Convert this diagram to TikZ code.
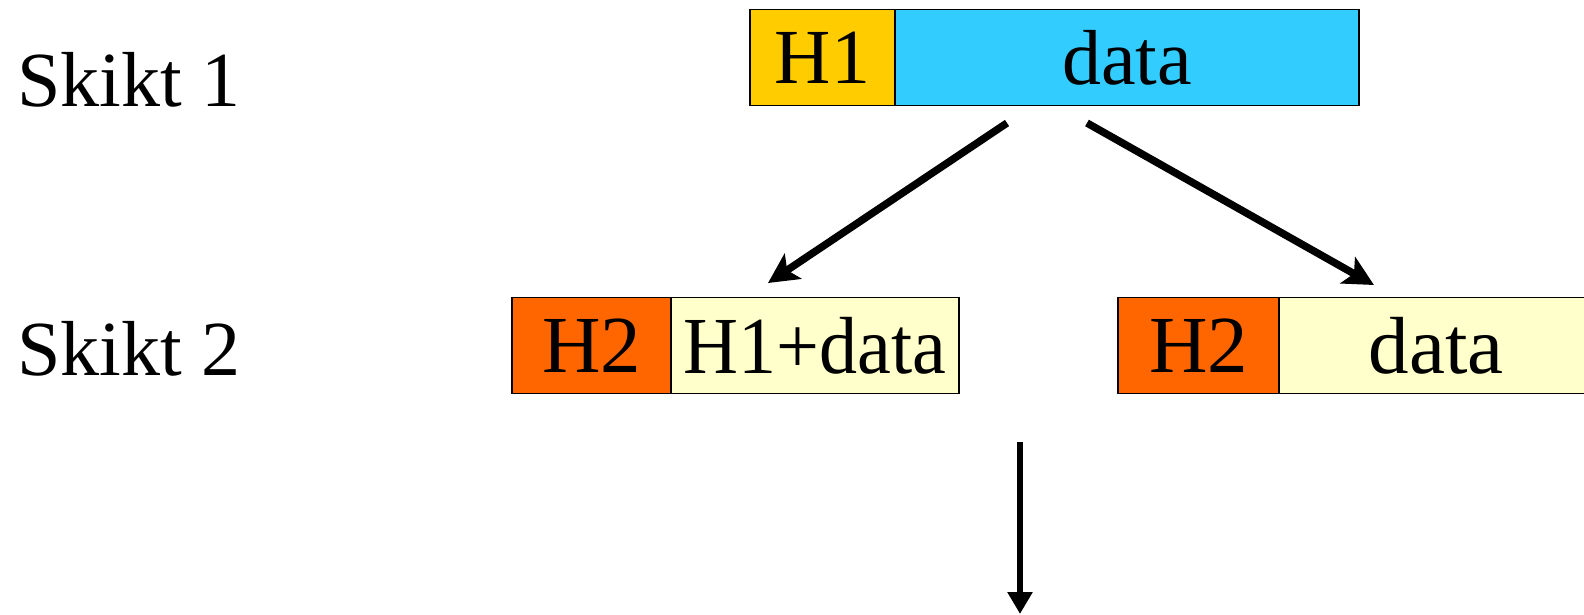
\documentclass[tikz,border=0pt]{standalone}
\usepackage{fontspec}
\setmainfont{Liberation Serif}
\usetikzlibrary{arrows.meta}
\definecolor{hone}{HTML}{FFCC00}
\definecolor{datablue}{HTML}{33CCFF}
\definecolor{htwo}{HTML}{FF6600}
\definecolor{paley}{HTML}{FFFFCC}
\tikzset{
  cell/.style={draw=black, line width=1.8pt, inner sep=0pt, minimum height=96pt,
    font=\fontsize{78}{80}\selectfont},
  cellb/.style={cell, font=\fontsize{81}{84}\selectfont},
  lbl/.style={inner sep=0pt, font=\fontsize{78}{80}\selectfont, anchor=base west},
  flow/.style={line width=7.5pt, -{Stealth[length=30pt,width=30pt,inset=7pt]}},
  flowv/.style={line width=6.5pt, -{Triangle[length=22pt,width=24pt]}}
}
\begin{document}
\begin{tikzpicture}[x=1pt,y=-1pt]
\clip (0,0) rectangle (1584,614);
\fill[white] (0,0) rectangle (1584,614);
% labels
\node[lbl] (s1) at (17,106) {Skikt 1};
\node[lbl] (s2) at (17,375) {Skikt 2};
% top packet
\node[cell, fill=hone, minimum width=145pt] (h1) at (822.5,57.5) {H1};
\node[cell, fill=datablue, minimum width=464pt] (d1) at (1127,57.5) {data};
% row 2 left
\node[cellb, fill=htwo, minimum width=159pt] (h2a) at (591.5,345.5) {H2};
\node[cellb, fill=paley, minimum width=288pt] (d2a) at (815,345.5) {\scalebox{0.94}[1]{H1+data}};
% row 2 right
\node[cellb, fill=htwo, minimum width=161pt] (h2b) at (1198.5,345.5) {H2};
\node[cell, fill=paley, minimum width=330pt] (d2b) at (1444,345.5) {};
\node[inner sep=0pt, font=\fontsize{81}{84}\selectfont] (d2bt) at (1436,345.5) {data};
% arrows
\coordinate (aLs) at (1007,123);
\coordinate (aLe) at (768,283);
\coordinate (aRs) at (1087,123);
\coordinate (aRe) at (1374,285);
\coordinate (vS) at (1020,442);
\coordinate (vE) at (1020,614);
\draw[flow] (aLs) -- (aLe);
\draw[flow] (aRs) -- (aRe);
\draw[flowv] (vS) -- (vE);
\end{tikzpicture}
\end{document}
